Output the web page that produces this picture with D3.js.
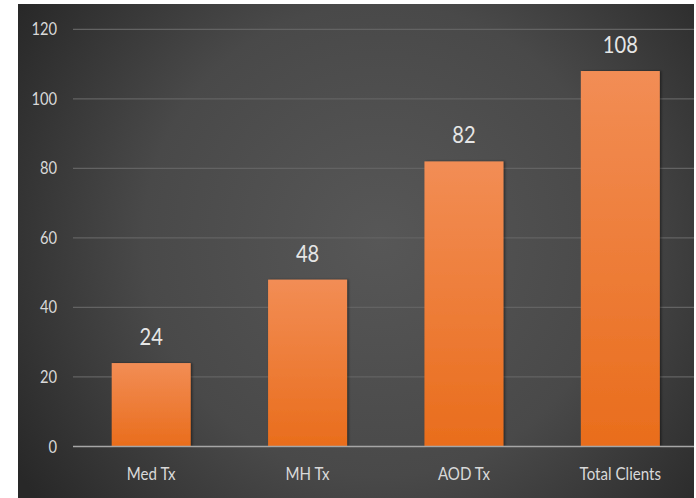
<!DOCTYPE html>
<html>
<head>
<meta charset="utf-8">
<script src="https://cdn.jsdelivr.net/npm/d3@7"></script>
<style>
body { margin: 0; background: #fff; }
svg { display: block; font-family: Lato, "Open Sans", sans-serif; }
</style>
</head>
<body>
<script>
var width = 696,
    height = 498

var categories = ["Med Tx", "MH Tx", "AOD Tx", "Total Clients"]
var values = [24, 48, 82, 108]
var yTicks = [0, 20, 40, 60, 80, 100, 120]

var x = d3.scaleBand()
    .domain(categories)
    .range([73, 698.5])
    .paddingInner(0.495)
    .paddingOuter(0.2475)

var y = d3.scaleLinear()
    .domain([0, 120])
    .range([446.5, 29.3])

var squeeze = 0.84

var svg = d3.select("body").append("svg")
    .attr("width", width)
    .attr("height", height)

var defs = svg.append("defs")

var bg = defs.append("radialGradient")
    .attr("id", "bg")
    .attr("gradientUnits", "userSpaceOnUse")
    .attr("cx", 380).attr("cy", 240).attr("r", 430)
bg.append("stop").attr("offset", "0%").attr("stop-color", "#575757")
bg.append("stop").attr("offset", "55%").attr("stop-color", "#494949")
bg.append("stop").attr("offset", "100%").attr("stop-color", "#282828")

var barGrad = defs.append("linearGradient")
    .attr("id", "bar")
    .attr("x1", 0).attr("y1", 0).attr("x2", 0).attr("y2", 1)
barGrad.append("stop").attr("offset", "0%").attr("stop-color", "#f28d55")
barGrad.append("stop").attr("offset", "100%").attr("stop-color", "#e96d1c")

var shadow = defs.append("filter").attr("id", "shadow")
    .attr("x", "-10%").attr("y", "-10%").attr("width", "130%").attr("height", "120%")
shadow.append("feDropShadow")
    .attr("dx", 1.5).attr("dy", 0).attr("stdDeviation", 1.2)
    .attr("flood-color", "#000").attr("flood-opacity", 0.45)

svg.append("rect")
    .attr("x", 18).attr("y", 4)
    .attr("width", 676).attr("height", 494)
    .attr("fill", "url(#bg)")

// gridlines
svg.append("g")
    .selectAll("line")
    .data(yTicks.slice(1))
    .enter().append("line")
    .attr("x1", 73).attr("x2", 694)
    .attr("y1", function(d) { return y(d) })
    .attr("y2", function(d) { return y(d) })
    .attr("stroke", "#636363")
    .attr("stroke-width", 1.2)

// y labels
svg.append("g")
    .selectAll("text")
    .data(yTicks)
    .enter().append("text")
    .attr("transform", function(d) { return "translate(57," + (y(d) + 6) + ") scale(" + squeeze + ",1)" })
    .attr("text-anchor", "end")
    .attr("fill", "#d9d9d9")
    .style("font-size", "17.5px")
    .text(function(d) { return d })

// bars
svg.append("g")
    .selectAll("rect")
    .data(values)
    .enter().append("rect")
    .attr("x", function(d, i) { return x(categories[i]) })
    .attr("y", function(d) { return y(d) })
    .attr("width", x.bandwidth())
    .attr("height", function(d) { return y(0) - y(d) })
    .attr("fill", "url(#bar)")
    .attr("filter", "url(#shadow)")

// baseline
svg.append("line")
    .attr("x1", 73).attr("x2", 694)
    .attr("y1", y(0)).attr("y2", y(0))
    .attr("stroke", "#a6a6a6")
    .attr("stroke-width", 1.5)

// value labels
svg.append("g")
    .selectAll("text")
    .data(values)
    .enter().append("text")
    .attr("transform", function(d, i) {
        return "translate(" + (x(categories[i]) + x.bandwidth() / 2) + "," + (y(d) - 18) + ") scale(" + squeeze + ",1)"
    })
    .attr("text-anchor", "middle")
    .attr("fill", "#e6e6e6")
    .style("font-size", "24px")
    .text(function(d) { return d })

// category labels
svg.append("g")
    .selectAll("text")
    .data(categories)
    .enter().append("text")
    .attr("transform", function(d) {
        return "translate(" + (x(d) + x.bandwidth() / 2) + ",480) scale(" + squeeze + ",1)"
    })
    .attr("text-anchor", "middle")
    .attr("fill", "#d9d9d9")
    .style("font-size", "18px")
    .text(function(d) { return d })
</script>
</body>
</html>
